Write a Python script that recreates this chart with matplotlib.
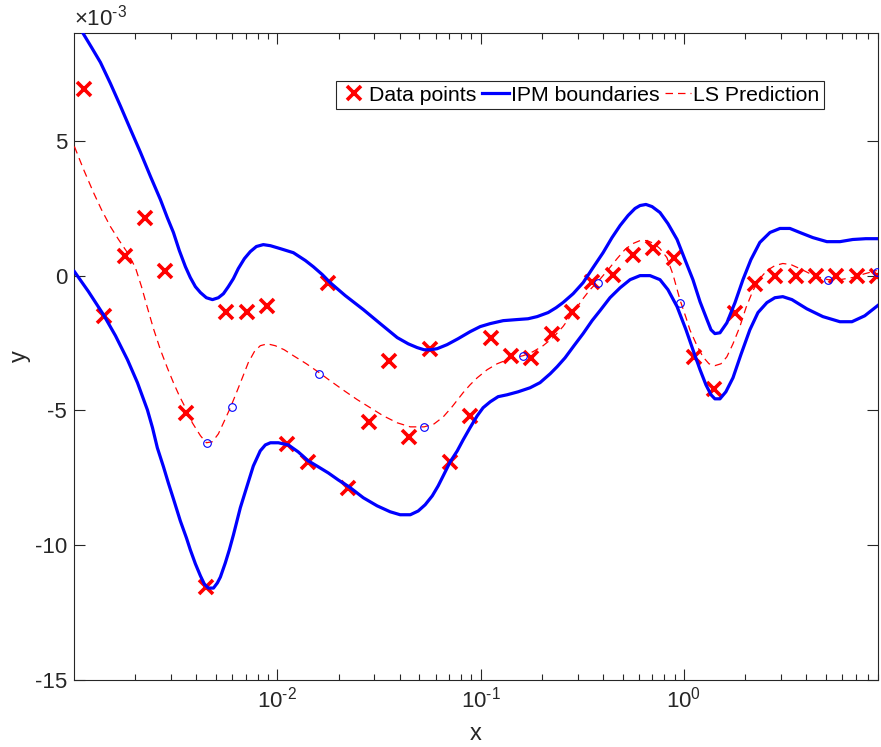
import numpy as np
import matplotlib
matplotlib.use('Agg')
import matplotlib.pyplot as plt
from matplotlib.ticker import FuncFormatter

plt.rcParams['font.family'] = ['Liberation Sans', 'DejaVu Sans']
plt.rcParams['mathtext.fontset'] = 'custom'
plt.rcParams['mathtext.rm'] = 'Liberation Sans'
plt.rcParams['mathtext.it'] = 'Liberation Sans:italic'
plt.rcParams['axes.unicode_minus'] = False

# values: x as log10 exponent, y in units of 1e-3
data_logx = [-2.95, -2.85, -2.75, -2.65, -2.55, -2.45, -2.35, -2.25, -2.15, -2.05,
             -1.95, -1.85, -1.75, -1.65, -1.55, -1.45, -1.35, -1.25, -1.15, -1.05,
             -0.95, -0.85, -0.75, -0.65, -0.55, -0.45, -0.35, -0.25, -0.15, -0.05,
             0.05, 0.15, 0.25, 0.35, 0.45, 0.55, 0.65, 0.75, 0.85, 0.95]
data_y = [6.91, -1.49, 0.71, 2.15, 0.19, -5.09, -11.55, -1.34, -1.34, -1.11,
          -6.24, -6.91, -0.26, -7.87, -5.42, -3.16, -5.98, -2.71, -6.91, -5.20,
          -2.30, -2.97, -3.04, -2.15, -1.34, -0.22, 0.04, 0.78, 1.04, 0.67,
          -3.01, -4.20, -1.37, -0.30, -0.02, -0.03, -0.03, -0.02, -0.03, -0.02]

upper_logx = [-2.998, -2.958, -2.914, -2.870, -2.821, -2.771, -2.722, -2.673, -2.624, -2.575,
              -2.541, -2.511, -2.482, -2.452, -2.428, -2.403, -2.378, -2.349, -2.319, -2.290,
              -2.265, -2.241, -2.216, -2.192, -2.162, -2.133, -2.103, -2.069, -2.034, -1.985,
              -1.921, -1.862, -1.823, -1.779, -1.740, -1.666, -1.577, -1.494, -1.410, -1.356,
              -1.312, -1.278, -1.248, -1.214, -1.165, -1.111, -1.052, -1.002, -0.953, -0.889,
              -0.821, -0.767, -0.722, -0.668, -0.629, -0.595, -0.545, -0.496, -0.447, -0.398,
              -0.354, -0.314, -0.275, -0.241, -0.216, -0.187, -0.157, -0.118, -0.079, -0.034,
              0.005, 0.044, 0.079, 0.113, 0.133, 0.152, 0.177, 0.211, 0.251, 0.290,
              0.329, 0.373, 0.423, 0.472, 0.521, 0.570, 0.634, 0.703, 0.767, 0.830,
              0.894, 0.953]
upper_y = [9.51, 9.02, 8.47, 7.91, 7.13, 6.28, 5.42, 4.57, 3.68, 2.82,
           2.15, 1.60, 0.93, 0.33, -0.07, -0.41, -0.63, -0.82, -0.89, -0.82,
           -0.67, -0.41, -0.11, 0.26, 0.63, 0.89, 1.08, 1.15, 1.11, 1.00,
           0.85, 0.56, 0.33, 0.04, -0.26, -0.74, -1.26, -1.78, -2.30, -2.53,
           -2.67, -2.75, -2.75, -2.71, -2.56, -2.34, -2.08, -1.89, -1.78, -1.67,
           -1.63, -1.60, -1.52, -1.37, -1.19, -1.00, -0.67, -0.26, 0.30, 0.85,
           1.41, 1.86, 2.23, 2.49, 2.60, 2.64, 2.56, 2.34, 1.93, 1.34,
           0.59, -0.15, -0.97, -1.63, -2.01, -2.15, -2.12, -1.75, -1.00, -0.15,
           0.59, 1.23, 1.60, 1.75, 1.75, 1.60, 1.41, 1.26, 1.26, 1.34,
           1.37, 1.37]

lower_logx = [-2.998, -2.929, -2.855, -2.796, -2.737, -2.688, -2.639, -2.614, -2.590, -2.560,
              -2.536, -2.511, -2.477, -2.447, -2.428, -2.403, -2.378, -2.359, -2.339, -2.314,
              -2.295, -2.280, -2.256, -2.236, -2.216, -2.182, -2.147, -2.118, -2.084, -2.059,
              -2.034, -1.995, -1.946, -1.897, -1.848, -1.799, -1.749, -1.700, -1.646, -1.577,
              -1.509, -1.445, -1.396, -1.346, -1.307, -1.273, -1.238, -1.209, -1.179, -1.150,
              -1.115, -1.086, -1.052, -1.017, -0.988, -0.953, -0.914, -0.870, -0.816, -0.757,
              -0.708, -0.658, -0.624, -0.585, -0.541, -0.496, -0.452, -0.413, -0.364, -0.314,
              -0.265, -0.216, -0.167, -0.118, -0.079, -0.034, 0.010, 0.044, 0.079, 0.108,
              0.133, 0.152, 0.177, 0.206, 0.241, 0.280, 0.324, 0.364, 0.408, 0.447,
              0.486, 0.531, 0.604, 0.683, 0.767, 0.826, 0.889, 0.953]
lower_y = [0.15, -0.59, -1.45, -2.23, -3.12, -3.97, -4.98, -5.64, -6.39, -7.09,
           -7.69, -8.28, -9.10, -9.73, -10.17, -10.69, -11.14, -11.44, -11.59, -11.59,
           -11.40, -11.18, -10.66, -10.17, -9.62, -8.61, -7.76, -7.06, -6.50, -6.28,
           -6.20, -6.20, -6.28, -6.54, -6.87, -7.09, -7.32, -7.58, -7.84, -8.24,
           -8.54, -8.76, -8.87, -8.87, -8.73, -8.50, -8.17, -7.80, -7.35, -6.91,
           -6.50, -6.09, -5.64, -5.20, -4.90, -4.68, -4.49, -4.42, -4.31, -4.16,
           -3.97, -3.64, -3.38, -3.05, -2.60, -2.15, -1.67, -1.30, -0.82, -0.45,
           -0.15, 0.00, 0.00, -0.15, -0.52, -1.15, -2.01, -2.75, -3.49, -4.05,
           -4.42, -4.57, -4.57, -4.31, -3.79, -2.93, -2.01, -1.37, -1.00, -0.82,
           -0.78, -0.89, -1.23, -1.52, -1.71, -1.71, -1.49, -1.11]

ls_logx = [-2.998, -2.953, -2.904, -2.865, -2.821, -2.781, -2.737, -2.698, -2.668, -2.639,
           -2.609, -2.575, -2.541, -2.511, -2.482, -2.452, -2.418, -2.378, -2.349, -2.319,
           -2.290, -2.260, -2.231, -2.201, -2.172, -2.143, -2.113, -2.084, -2.049, -2.010,
           -1.966, -1.921, -1.857, -1.794, -1.740, -1.671, -1.607, -1.543, -1.479, -1.410,
           -1.346, -1.278, -1.229, -1.184, -1.140, -1.086, -1.052, -1.017, -0.968, -0.919,
           -0.855, -0.791, -0.742, -0.693, -0.644, -0.595, -0.545, -0.496, -0.462, -0.423,
           -0.373, -0.329, -0.290, -0.251, -0.216, -0.182, -0.147, -0.118, -0.084, -0.054,
           -0.020, 0.010, 0.029, 0.064, 0.093, 0.123, 0.152, 0.182, 0.211, 0.241,
           0.275, 0.305, 0.339, 0.373, 0.408, 0.447, 0.486, 0.526, 0.570, 0.639,
           0.708, 0.767, 0.830, 0.889, 0.948]
ls_y = [4.79, 3.94, 3.08, 2.45, 1.82, 1.34, 0.85, 0.30, -0.41, -1.19,
        -1.97, -2.75, -3.42, -3.97, -4.46, -4.90, -5.46, -5.94, -6.20, -6.16,
        -5.87, -5.38, -4.90, -4.34, -3.79, -3.23, -2.82, -2.60, -2.53, -2.60,
        -2.75, -2.97, -3.27, -3.60, -3.90, -4.27, -4.60, -4.90, -5.20, -5.46,
        -5.61, -5.61, -5.50, -5.24, -4.86, -4.34, -4.05, -3.79, -3.49, -3.27,
        -3.08, -2.97, -2.82, -2.60, -2.30, -1.89, -1.37, -0.85, -0.52, -0.22,
        0.22, 0.63, 0.97, 1.19, 1.30, 1.30, 1.19, 1.00, 0.67, 0.04,
        -0.89, -1.56, -2.01, -2.60, -3.01, -3.27, -3.34, -3.27, -3.01, -2.53,
        -1.89, -1.19, -0.56, -0.11, 0.19, 0.37, 0.45, 0.41, 0.26, 0.00,
        -0.15, -0.15, -0.07, 0.07, 0.19]

test_logx = [-2.344, -2.221, -1.794, -1.278, -0.791, -0.423, -0.020, 0.708, 0.948]
test_y = [-6.20, -4.86, -3.64, -5.61, -2.97, -0.26, -1.00, -0.15, 0.15]

scale = 1e-3
grey = '#262626'
HY = '\u2010'  # plain hyphen, as in the original tick labels

fig = plt.figure(figsize=(8.81, 7.47), dpi=100)
ax = fig.add_axes([74 / 881, 1 - 680 / 747, (878 - 74) / 881, (680 - 33) / 747])

ax.plot(10 ** np.array(data_logx), np.array(data_y) * scale, 'x', color='red',
        markersize=10, markeredgewidth=2.6, label='Data points', zorder=2)
ax.plot(10 ** np.array(upper_logx), np.array(upper_y) * scale, '-', color='blue',
        linewidth=2.3, label='IPM boundaries', zorder=3)
ax.plot(10 ** np.array(lower_logx), np.array(lower_y) * scale, '-', color='blue',
        linewidth=2.3, zorder=3)
ax.plot(10 ** np.array(ls_logx), np.array(ls_y) * scale, '--', color='red',
        linewidth=0.9, dashes=(6, 4), label='LS Prediction', zorder=4)
ax.plot(10 ** np.array(test_logx), np.array(test_y) * scale, 'o', color='blue',
        markerfacecolor='none', markersize=5.5, markeredgewidth=0.8, zorder=5)

ax.set_xscale('log')
ax.set_xlim(1.0e-3, 9.0)
ax.set_ylim(-15e-3, 9e-3)
ax.set_xticks([1e-2, 1e-1, 1e0])
ax.set_yticks(np.array([-15, -10, -5, 0, 5]) * scale)


def xfmt(v, pos):
    e = int(round(np.log10(v)))
    s = str(e).replace('-', HY)
    return r'$\mathdefault{10^{%s}}$' % s


ax.xaxis.set_major_formatter(FuncFormatter(xfmt))
# tick labels in units of 1e-3, exponent shown above the axis
ax.yaxis.set_major_formatter(FuncFormatter(lambda v, pos: '%d' % round(v / scale)))
ax.text(0, 1.004, r'$\times\mathdefault{10^{%s3}}$' % HY, transform=ax.transAxes,
        ha='left', va='bottom', fontsize=16, color=grey)

ax.tick_params(which='both', direction='in', top=True, right=True, colors=grey,
               labelsize=16, width=0.8, pad=5)
ax.tick_params(which='major', length=8)
ax.tick_params(which='minor', length=4.5)
for s in ax.spines.values():
    s.set_color(grey)
    s.set_linewidth(0.8)

ax.set_xlabel('x', fontsize=17, color=grey, labelpad=7)
ax.set_ylabel('y', fontsize=17, color=grey, labelpad=3)

leg = ax.legend(loc='upper left', bbox_to_anchor=(0.326, 0.926), ncol=3,
                fontsize=15.3, frameon=True, fancybox=False, framealpha=1,
                edgecolor=grey, handlelength=1.25, handletextpad=0.1,
                columnspacing=0.25, borderpad=0.22, borderaxespad=0)
leg.get_frame().set_linewidth(0.8)

fig.savefig('out.png', dpi=100)
